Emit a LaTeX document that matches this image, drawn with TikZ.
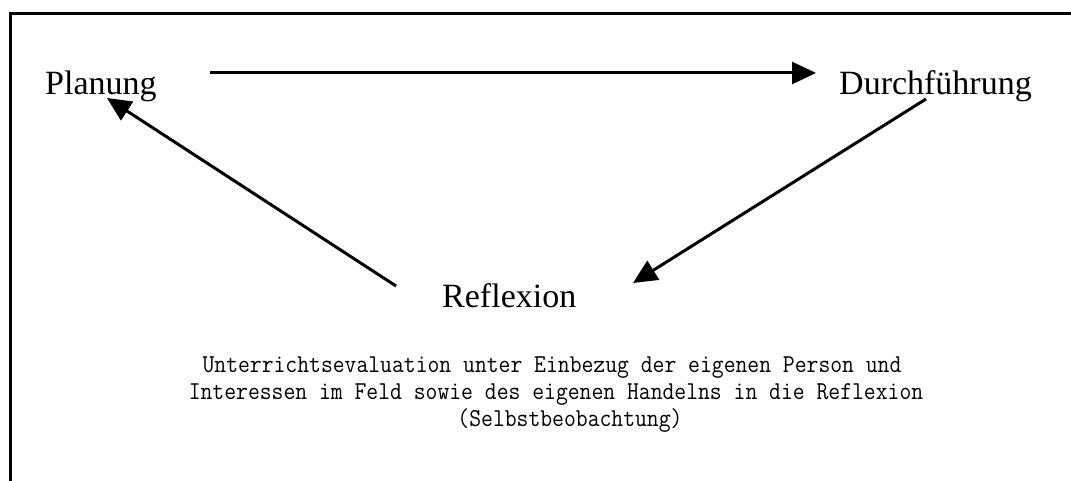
\documentclass[tikz,border=0pt]{standalone}
\usepackage{fontspec}
\setmainfont{Liberation Serif}
\usetikzlibrary{arrows.meta}
\tikzset{
  lbl/.style={font=\fontsize{34}{40}\selectfont, inner sep=0pt, anchor=base west},
  note/.style={font=\ttfamily\fontsize{23}{27}\selectfont, inner sep=0pt, anchor=base},
  conn/.style={line width=3pt, -{Triangle[length=24pt,width=22pt]}},
  frame/.style={line width=3pt}
}
\begin{document}
\begin{tikzpicture}[x=1pt,y=-1pt]
\useasboundingbox (0,0) rectangle (1071,481);
\fill[white] (0,0) rectangle (1071,481);
\draw[frame] (10,481) -- (10,14) -- (1071,14);
\node[lbl] (plan) at (45,95) {Planung};
\node[lbl] (durch) at (839,95) {Durchführung};
\node[lbl] (refl) at (442,307) {Reflexion};
\coordinate (pd1) at (210,73);
\coordinate (pd2) at (816,73);
\coordinate (dr1) at (926,99);
\coordinate (dr2) at (633,283);
\coordinate (rp1) at (396,286);
\coordinate (rp2) at (107,98);
\draw[conn] (pd1) -- (pd2);
\draw[conn] (dr1) -- (dr2);
\draw[conn] (rp1) -- (rp2);
\node[note] (n1) at (552,372) {\scalebox{1}[1.12]{Unterrichtsevaluation unter Einbezug der eigenen Person und}};
\node[note] (n2) at (556,399) {\scalebox{1}[1.12]{Interessen im Feld sowie des eigenen Handelns in die Reflexion}};
\node[note] (n3) at (570,426) {\scalebox{1}[1.12]{(Selbstbeobachtung)}};
\end{tikzpicture}
\end{document}
